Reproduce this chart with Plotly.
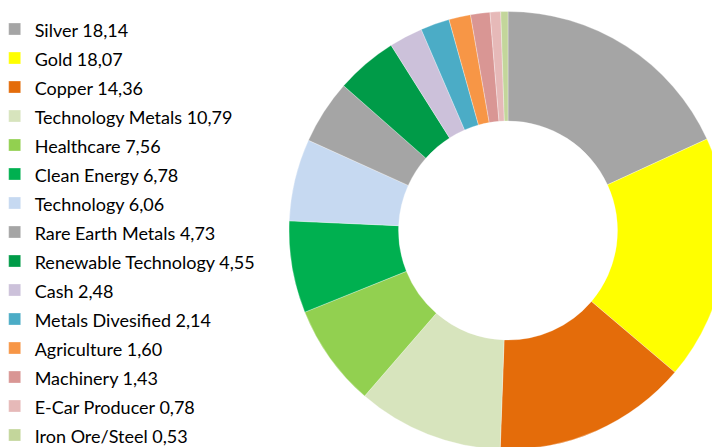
import plotly.graph_objects as go

categories = ["Silver", "Gold", "Copper", "Technology Metals", "Healthcare", "Clean Energy",
              "Technology", "Rare Earth Metals", "Renewable Technology", "Cash",
              "Metals Divesified", "Agriculture", "Machinery", "E-Car Producer", "Iron Ore/Steel"]
values = [18.14, 18.07, 14.36, 10.79, 7.56, 6.78, 6.06, 4.73, 4.55, 2.48, 2.14, 1.60, 1.43, 0.78, 0.53]
colors = ["#A5A5A5", "#FFFF00", "#E46C0A", "#D7E4BD", "#92D050", "#00B050", "#C6D9F1", "#A5A5A5",
          "#009B48", "#CCC1DA", "#4BACC6", "#F79646", "#D99694", "#E6B9B8", "#C3D69B"]

legend_labels = [
    '<span style="font-size:18px">' + f"{c} {v:.2f}".replace(".", ",") + "</span>"
    for c, v in zip(categories, values)
]

W, H = 720, 447
cx, cy, r = 500, 222.5, 219
fig = go.Figure(go.Pie(
    labels=legend_labels,
    values=values,
    marker=dict(colors=colors, line=dict(width=0.5, color="rgba(255,255,255,0.6)")),
    sort=False,
    direction="clockwise",
    rotation=0,
    hole=0.5,
    textinfo="none",
    hoverinfo="label+percent",
    domain=dict(x=[(cx - r) / W, min(1, (cx + r) / W)], y=[(H - cy - r) / H, (H - cy + r) / H]),
))

fig.update_layout(
    width=W, height=H,
    margin=dict(l=0, r=0, t=0, b=0, autoexpand=False),
    paper_bgcolor="white",
    plot_bgcolor="white",
    showlegend=True,
    legend=dict(x=-0.0185, y=0.9966, xanchor="left", yanchor="top",
                font=dict(family="Lato, Carlito, Calibri, sans-serif", size=20, color="#000000"),
                bgcolor="rgba(0,0,0,0)", maxheight=1000),
)

fig.write_html("out.html")
